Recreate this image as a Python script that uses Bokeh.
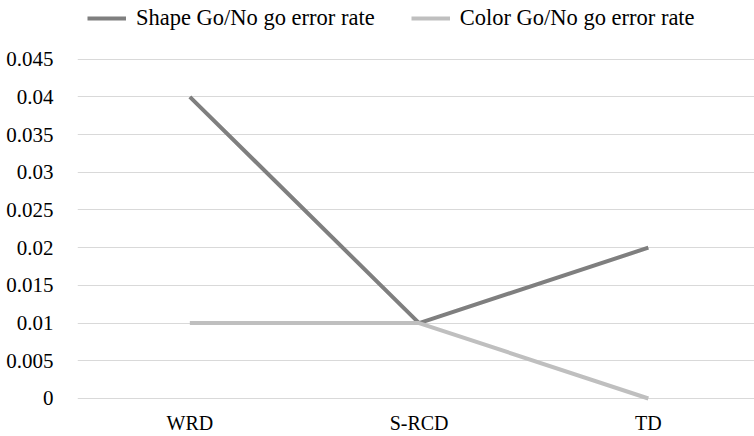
from bokeh.plotting import figure
from bokeh.models import Range1d, FixedTicker, Legend, LegendItem
from bokeh.embed import file_html
from bokeh.resources import INLINE

categories = ["WRD", "S-RCD", "TD"]
shape_err = [0.04, 0.01, 0.02]
color_err = [0.01, 0.01, 0.0]
y_ticks = [0, 0.005, 0.01, 0.015, 0.02, 0.025, 0.03, 0.035, 0.04, 0.045]
y_tick_labels = ["0", "0.005", "0.01", "0.015", "0.02", "0.025", "0.03", "0.035", "0.04", "0.045"]

FONT = "Liberation Serif"
xs = list(range(len(categories)))

p = figure(width=754, height=436, output_backend="svg", toolbar_location=None,
           x_range=Range1d(-0.49, 2.463), y_range=Range1d(-0.0004, 0.05278),
           min_border_left=77, min_border_right=0, min_border_top=0, min_border_bottom=35)
p.outline_line_color = None
p.background_fill_color = "white"
p.border_fill_color = "white"

p.xgrid.grid_line_color = None
p.ygrid.grid_line_color = "#d9d9d9"
p.ygrid.grid_line_width = 1

p.yaxis.ticker = FixedTicker(ticks=y_ticks)
p.yaxis.major_label_overrides = {t: l for t, l in zip(y_ticks, y_tick_labels)}
p.ygrid.ticker = FixedTicker(ticks=y_ticks)
p.xaxis.ticker = FixedTicker(ticks=xs)
p.xaxis.major_label_overrides = {i: c for i, c in zip(xs, categories)}

for ax in (p.xaxis, p.yaxis):
    ax.axis_line_color = None
    ax.major_tick_line_color = None
    ax.minor_tick_line_color = None
    ax.major_label_text_font = FONT
    ax.major_label_text_color = "#000000"
p.yaxis.major_label_text_font_size = "21px"
p.xaxis.major_label_text_font_size = "20px"
p.yaxis.major_label_standoff = 18
p.xaxis.major_label_standoff = 4

r1 = p.line(xs, shape_err, line_color="#7f7f7f", line_width=4)
r2 = p.line(xs, color_err, line_color="#bfbfbf", line_width=4)

legend = Legend(items=[LegendItem(label="Shape Go/No go error rate", renderers=[r1]),
                       LegendItem(label="Color Go/No go error rate", renderers=[r2])],
                orientation="horizontal", location=(10, 370), margin=0, padding=0,
                label_text_font=FONT, label_text_font_size="22.5px", label_text_color="#000000",
                glyph_width=39, glyph_height=24, label_height=24,
                spacing=36, label_standoff=10,
                border_line_color=None, background_fill_alpha=0)
p.add_layout(legend, "center")

open("out.html", "w").write(file_html(p, INLINE))
